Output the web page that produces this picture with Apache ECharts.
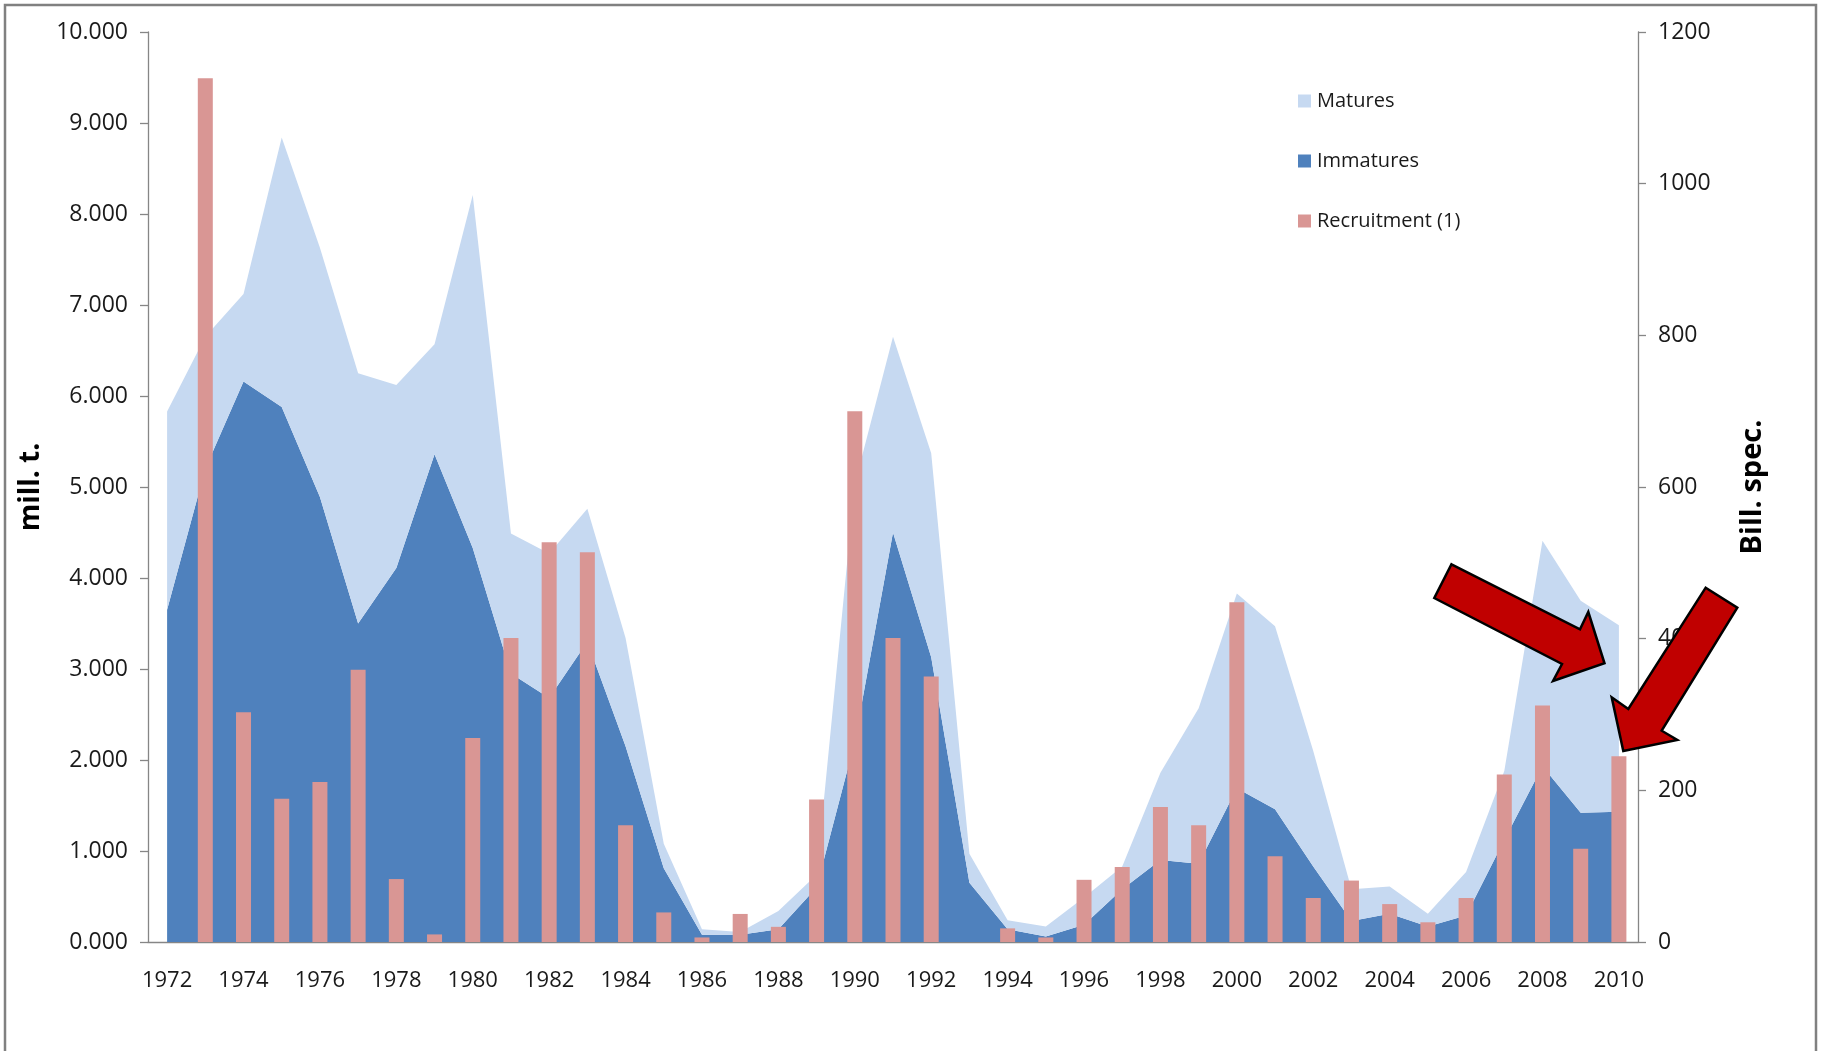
<!DOCTYPE html>
<html>
<head>
<meta charset="utf-8">
<script src="https://cdn.jsdelivr.net/npm/echarts@6/dist/echarts.min.js"></script>
<style>
html,body{margin:0;padding:0;background:#fff;}
#c{width:1824px;height:1051px;}
</style>
</head>
<body>
<div id="c"></div>
<script>
const years = ['1972','1973','1974','1975','1976','1977','1978','1979','1980','1981','1982','1983','1984','1985','1986','1987','1988','1989','1990','1991','1992','1993','1994','1995','1996','1997','1998','1999','2000','2001','2002','2003','2004','2005','2006','2007','2008','2009','2010'];
const immatures = [3.65,5.20,6.16,5.88,4.89,3.50,4.11,5.36,4.33,
  2.95,2.68,3.30,2.15,0.81,0.08,0.08,0.14,0.60,2.20,
  4.50,3.13,0.65,0.14,0.06,0.19,0.58,0.90,0.86,1.69,
  1.46,0.83,0.23,0.31,0.17,0.29,1.12,1.93,1.42,1.43];
const matures = [2.18,1.45,0.96,2.96,2.74,2.75,2.01,1.21,3.88,
  1.54,1.59,1.46,1.19,0.27,0.06,0.03,0.20,0.14,2.83,
  2.15,2.24,0.32,0.10,0.11,0.30,0.25,0.96,1.71,2.14,
  2.01,1.27,0.35,0.30,0.14,0.48,0.76,2.48,2.33,2.05];
const recruitment = [null,1139,303,189,211,359,83,10,269,
  401,527,514,154,39,6,37,20,188,700,
  401,350,null,18,6,82,99,178,154,448,
  113,58,81,50,26,58,221,312,123,245];
const leftAxisName = 'mill. t.';
const rightAxisName = 'Bill. spec.';
const seriesNames = ['Matures','Immatures','Recruitment (1)'];

const FONT = '"Open Sans", "Noto Sans", sans-serif';
const AX = '#868686';
const TXT = '#1a1a1a';

const chart = echarts.init(document.getElementById('c'), null, {renderer:'canvas'});
chart.setOption({
  animation: false,
  backgroundColor: '#fff',
  textStyle: {fontFamily: FONT},
  grid: {left:148, right:186, top:32, bottom:109},
  legend: {
    orient: 'vertical', left: 1298, top: 91, padding: 0,
    itemWidth: 13, itemHeight: 13, itemGap: 40,
    selectedMode: false,
    textStyle: {fontFamily: FONT, fontSize: 20, color: TXT, padding:[0,0,0,1]},
    data: [
      {name: seriesNames[0], icon: 'rect', itemStyle:{color:'#C6D9F1'}},
      {name: seriesNames[1], icon: 'rect', itemStyle:{color:'#4F81BD'}},
      {name: seriesNames[2], icon: 'rect', itemStyle:{color:'#D99694'}}
    ]
  },
  xAxis: {
    type: 'category', data: years, boundaryGap: true,
    axisLine: {lineStyle:{color:AX, width:1.3}},
    axisTick: {interval: 0, length: 8, lineStyle:{color:AX, width:1.3}},
    axisLabel: {interval: 1, margin: 28, fontSize: 22, color: TXT, fontFamily: FONT},
    splitLine: {show:false}
  },
  yAxis: [
    {
      type: 'value', min: 0, max: 10, interval: 1,
      name: leftAxisName, nameLocation: 'middle', nameGap: 98, nameRotate: 90,
      nameTextStyle: {fontSize: 28, fontWeight: 'bold', color: '#000', fontFamily: FONT},
      axisLine: {show:true, lineStyle:{color:AX, width:1.3}},
      axisTick: {show:true, length: 8, lineStyle:{color:AX, width:1.3}},
      axisLabel: {margin: 20, fontSize: 23, color: TXT, fontFamily: FONT,
        formatter: v => v.toFixed(3)},
      splitLine: {show:false}
    },
    {
      type: 'value', min: 0, max: 1200, interval: 200, position: 'right',
      name: rightAxisName, nameLocation: 'middle', nameGap: 100, nameRotate: 90,
      nameTextStyle: {fontSize: 29, fontWeight: 'bold', color: '#000', fontFamily: FONT},
      axisLine: {show:true, lineStyle:{color:AX, width:1.3}},
      axisTick: {show:true, length: 8, lineStyle:{color:AX, width:1.3}},
      axisLabel: {margin: 20, fontSize: 23, color: TXT, fontFamily: FONT,
        formatter: v => String(v)},
      splitLine: {show:false}
    }
  ],
  series: [
    {
      name: seriesNames[1], type: 'line', stack: 'bio', data: immatures,
      showSymbol: false, symbol: 'none', lineStyle: {width: 0, color:'#4F81BD'},
      itemStyle: {color: '#4F81BD'}, areaStyle: {color: '#4F81BD', opacity: 1}, z: 1
    },
    {
      name: seriesNames[0], type: 'line', stack: 'bio', data: matures,
      showSymbol: false, symbol: 'none', lineStyle: {width: 0, color:'#C6D9F1'},
      itemStyle: {color: '#C6D9F1'}, areaStyle: {color: '#C6D9F1', opacity: 1}, z: 1
    },
    {
      name: seriesNames[2], type: 'bar', yAxisIndex: 1, data: recruitment,
      barWidth: 15, itemStyle: {color: '#D99694'}, z: 3
    }
  ],
  graphic: [
    {type:'rect', z: 100, silent:true,
      shape:{x:5, y:5, width:1811, height:1100},
      style:{fill:'none', stroke:'#808080', lineWidth:2.5}},
    {type:'polygon', z: 100, silent:true,
      shape:{points:[[1451.5,564.3],[1580,629.3],[1588.3,612],[1604.5,663.3],[1553,681],[1562,664],[1434.3,598]]},
      style:{fill:'#C00000', stroke:'#000', lineWidth:2.5, lineJoin:'miter'}},
    {type:'polygon', z: 100, silent:true,
      shape:{points:[[1705.7,587.7],[1737.3,607.7],[1661.7,730.7],[1677.3,740],[1623.3,751],[1611.7,697.3],[1628.3,709]]},
      style:{fill:'#C00000', stroke:'#000', lineWidth:2.5, lineJoin:'miter'}}
  ]
});
</script>
</body>
</html>
